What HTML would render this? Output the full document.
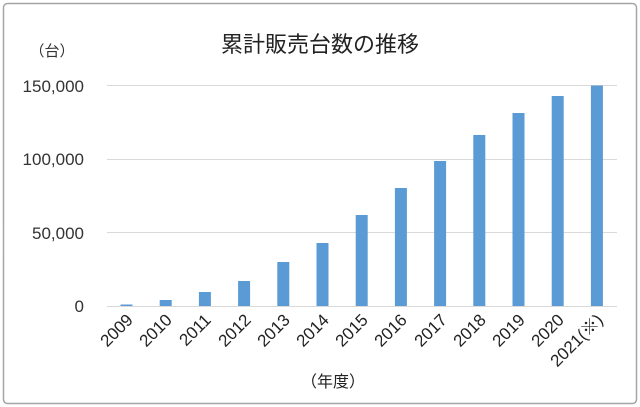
<!DOCTYPE html>
<html><head><meta charset="utf-8"><style>
body{margin:0;background:#fff;}
svg{display:block;font-family:"Liberation Sans","Noto Sans CJK JP",sans-serif;}
</style></head><body>
<svg width="640" height="407" viewBox="0 0 640 407">
<rect x="3.5" y="3.5" width="633" height="400" rx="4" fill="#fff" stroke="#a6a6a6" stroke-width="1.5"/>
<text x="320" y="52" font-size="22" text-anchor="middle" fill="#222">累計販売台数の推移</text>
<text x="52" y="56" font-size="15" text-anchor="middle" fill="#333">（台）</text>
<g stroke="#d9d9d9" stroke-width="1">
<line x1="107" y1="85.5" x2="617" y2="85.5"/>
<line x1="107" y1="159.5" x2="617" y2="159.5"/>
<line x1="107" y1="232.5" x2="617" y2="232.5"/>
</g>
<g font-size="17" fill="#333" text-anchor="end">
<text x="84" y="92">150,000</text>
<text x="84" y="165">100,000</text>
<text x="84" y="239">50,000</text>
<text x="84" y="312">0</text>
</g>
<g fill="#5b9bd5">
<rect x="120.5" y="304.5" width="12" height="1.5"/>
<rect x="159.7" y="300" width="12" height="6"/>
<rect x="198.9" y="292" width="12" height="14"/>
<rect x="238.1" y="281" width="12" height="25"/>
<rect x="277.3" y="262" width="12" height="44"/>
<rect x="316.5" y="243" width="12" height="63"/>
<rect x="355.7" y="215" width="12" height="91"/>
<rect x="394.9" y="188" width="12" height="118"/>
<rect x="434.1" y="161" width="12" height="145"/>
<rect x="473.3" y="135" width="12" height="171"/>
<rect x="512.5" y="113" width="12" height="193"/>
<rect x="551.7" y="96" width="12" height="210"/>
<rect x="590.9" y="85.5" width="12" height="220.5"/>
</g>
<line x1="107" y1="306.5" x2="617" y2="306.5" stroke="#d9d9d9"/>
<g font-size="17" fill="#222" text-anchor="end">
<text transform="translate(134,321) rotate(-45)">2009</text>
<text transform="translate(173,321) rotate(-45)">2010</text>
<text transform="translate(212,321) rotate(-45)">2011</text>
<text transform="translate(252,321) rotate(-45)">2012</text>
<text transform="translate(291,321) rotate(-45)">2013</text>
<text transform="translate(330,321) rotate(-45)">2014</text>
<text transform="translate(369,321) rotate(-45)">2015</text>
<text transform="translate(408,321) rotate(-45)">2016</text>
<text transform="translate(448,321) rotate(-45)">2017</text>
<text transform="translate(487,321) rotate(-45)">2018</text>
<text transform="translate(526,321) rotate(-45)">2019</text>
<text transform="translate(565,321) rotate(-45)">2020</text>
<text transform="translate(604,321) rotate(-45)">2021(※)</text>
</g>
<text x="333" y="387" font-size="16" text-anchor="middle" fill="#222">（年度）</text>
</svg>
</body></html>
